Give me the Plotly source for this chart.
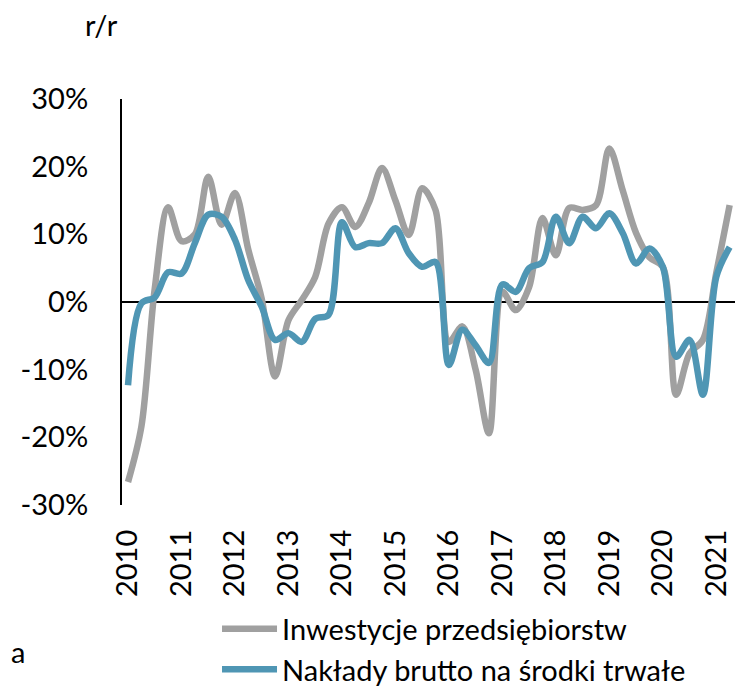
import plotly.graph_objects as go

# Quarterly data, 2010Q1 .. 2021Q2 (y/y, %)
quarters = [f"{y}Q{q}" for y in range(2010, 2022) for q in range(1, 5)][:46]

inwestycje = [-26.6, -18.4, 2.0, 14.0, 9.0, 10.0, 18.5, 11.4, 16.1, 7.7,
              0.5, -11.0, -2.7, 0.3, 3.7, 11.6, 14.0, 11.1, 14.6, 19.8,
              15.0, 9.9, 16.8, 13.6, -5.9, -3.6, -10.0, -19.4, 1.5, -1.2,
              2.2, 12.4, 6.9, 13.9, 13.6, 14.3, 22.7, 16.5, 10.2, 6.6,
              5.2, -13.7, -7.6, -5.6, 4.3, 14.3]

naklady = [-12.3, -0.2, 0.7, 4.4, 4.2, 8.7, 12.9, 12.6, 9.2, 3.2,
           -0.7, -5.6, -4.6, -5.9, -2.5, -1.9, 11.8, 8.1, 8.7, 8.7,
           10.9, 7.2, 5.2, 5.9, -9.3, -4.1, -6.4, -9.0, 2.6, 1.5,
           5.0, 5.9, 12.6, 8.7, 12.6, 10.9, 13.1, 10.2, 5.7, 7.9,
           5.2, -8.1, -5.6, -13.7, 3.7, 8.1]

year_labels = [str(y) for y in range(2010, 2022)]
y_ticks = [-30, -20, -10, 0, 10, 20, 30]
y_tick_labels = ["-30%", "-20%", "-10%", "0%", "10%", "20%", "30%"]

FONT = "Lato, 'Open Sans', sans-serif"
FS = 29
GRAY = "#a0a0a0"
BLUE = "#4f96b4"

xs = list(range(len(quarters)))

fig = go.Figure()
fig.add_trace(go.Scatter(x=xs, y=inwestycje, mode="lines", name="Inwestycje przedsiębiorstw",
                         line=dict(color=GRAY, width=6.5, shape="spline", smoothing=0.9)))
fig.add_trace(go.Scatter(x=xs, y=naklady, mode="lines", name="Nakłady brutto na środki trwałe",
                         line=dict(color=BLUE, width=6.5, shape="spline", smoothing=0.9)))

fig.update_layout(
    width=738, height=678,
    margin=dict(l=114, r=11, t=91, b=181, pad=0, autoexpand=False),
    paper_bgcolor="white", plot_bgcolor="white",
    font=dict(family=FONT, size=FS, color="#000000"),
    showlegend=True,
    legend=dict(x=0.155, y=0.122, xanchor="left", yanchor="top", yref="container",
                orientation="v", bgcolor="rgba(0,0,0,0)", itemwidth=55, tracegroupgap=0,
                font=dict(family=FONT, size=FS, color="#000000")),
    annotations=[
        dict(text="r/r", x=-0.033, y=1.183, xref="paper", yref="paper", showarrow=False,
             xanchor="center", yanchor="middle", font=dict(family=FONT, size=FS, color="#000000")),
        dict(text="a", x=-0.184, y=-0.362, xref="paper", yref="paper", showarrow=False,
             xanchor="left", yanchor="middle", font=dict(family=FONT, size=FS, color="#000000")),
    ],
)

fig.update_xaxes(range=[-0.45, 45.4], tickmode="array", tickvals=xs[::4], ticktext=year_labels,
                 tickangle=-90, ticks="", showgrid=False, zeroline=False, showline=False,
                 automargin=False, ticklabelstandoff=18,
                 tickfont=dict(family=FONT, size=FS, color="#000000"))
fig.update_yaxes(range=[-30, 30], tickmode="array", tickvals=y_ticks, ticktext=y_tick_labels,
                 ticks="", showgrid=False, zeroline=True, zerolinecolor="#000000", zerolinewidth=2,
                 showline=True, linecolor="#000000", linewidth=2, automargin=False,
                 ticklabelstandoff=26, tickfont=dict(family=FONT, size=FS, color="#000000"))

fig.write_html("out.html")
